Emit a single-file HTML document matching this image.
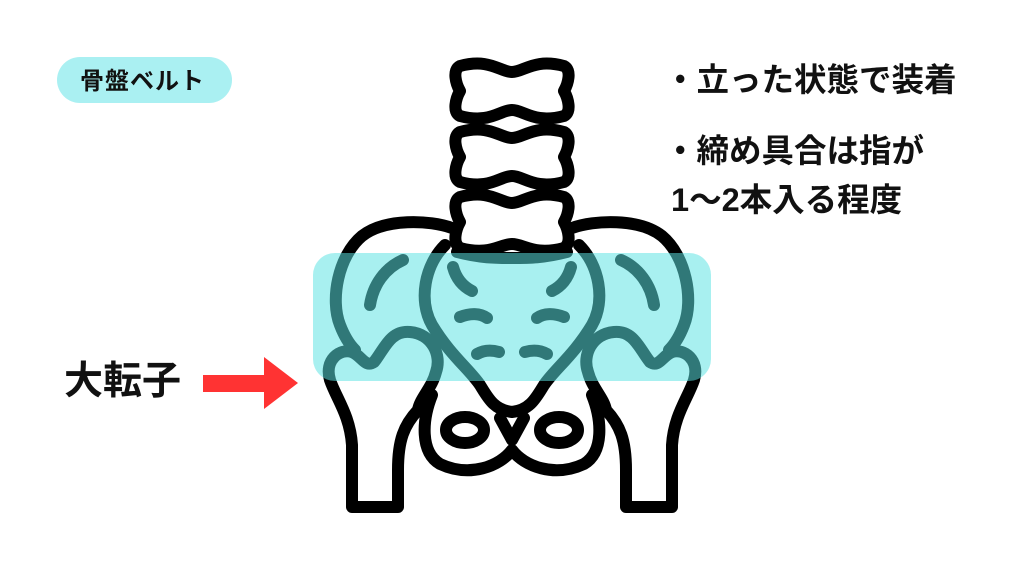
<!DOCTYPE html>
<html><head><meta charset="utf-8"><style>
html,body{margin:0;padding:0;background:#fff;}
body{width:1024px;height:576px;position:relative;overflow:hidden;font-family:"Liberation Sans","Noto Sans CJK JP",sans-serif;font-weight:bold;color:#111;}
.t{position:absolute;white-space:nowrap;line-height:1;}
</style></head><body>
<div style="position:absolute;left:57px;top:57px;width:175px;height:46px;border-radius:23px;background:#aaf0f2;"></div>
<div class="t" style="left:80px;top:70px;font-size:24px;letter-spacing:1px;">骨盤ベルト</div>
<div class="t" style="left:664px;top:64px;font-size:32.5px;">・立った状態で装着</div>
<div class="t" style="left:664px;top:135px;font-size:32.5px;">・締め具合は指が</div>
<div class="t" style="left:671px;top:184px;font-size:32.5px;">1〜2本入る程度</div>
<div class="t" style="left:64px;top:362px;font-size:39px;">大転子</div>
<svg width="1024" height="576" style="position:absolute;left:0;top:0">
<polygon points="203,375 264,375 264,357 298,383 264,409 264,392 203,392" fill="#ff3333"/>
<g fill="none" stroke="#000" stroke-width="12" stroke-linecap="round" stroke-linejoin="round">
<path d="M460,66 C490,58 500,72 512,72 C524,72 534,58 564,66 C572,70 568,84 564,91 C568,98 572,112 564,116 C534,124 524,110 512,110 C500,110 490,124 460,116 C452,112 456,98 460,91 C456,84 452,70 460,66 Z" fill="#fff"/>
<path d="M460,132 C490,124 500,138 512,138 C524,138 534,124 564,132 C572,136 568,150 564,157 C568,164 572,178 564,182 C534,190 524,176 512,176 C500,176 490,190 460,182 C452,178 456,164 460,157 C456,150 452,136 460,132 Z" fill="#fff"/>
<path d="M460,197 C490,189 500,203 512,203 C524,203 534,189 564,197 C572,201 568,215 564,222 C568,229 572,243 564,248 C534,256 524,244 512,244 C500,244 490,256 460,248 C452,243 456,229 460,222 C456,215 452,201 460,197 Z" fill="#fff"/>
<path d="M452,228 C430,220 385,218 362,236 C338,256 330,300 340,325 C345,338 350,345 355,350"/>
<path d="M572,228 C594,220 639,218 662,236 C686,256 694,300 684,325 C679,338 674,345 669,350"/>
<path d="M445,245 C425,265 418,300 432,325 C450,355 470,370 480,385 C488,398 494,410 512,412 C530,410 536,398 544,385 C554,370 574,355 592,325 C606,300 599,265 579,245"/>
<path d="M457,252 C480,258 495,258 512,258 C529,258 544,258 567,252"/>
<path d="M403,260 C385,268 373,285 370,305"/>
<path d="M621,260 C639,268 651,285 654,305"/>
<path d="M453,267 C456,278 462,286 472,291"/><path d="M571,267 C568,278 562,286 552,291"/>
<path d="M460,317 C470,313 480,313 487,318"/><path d="M564,317 C554,313 544,313 537,318"/>
<path d="M477,354 C484,350 492,350 499,352"/><path d="M547,354 C540,350 532,350 525,352"/>
<path d="M352,507 L352,445 C350,415 336,398 330,380 C324,360 340,348 352,352 C362,356 365,368 374,362 C384,350 390,330 410,332 C432,334 442,355 436,372 C432,388 420,398 418,410 C404,425 398,440 398,470 L398,507 Z" fill="#fff"/>
<path d="M672,507 L672,445 C674,415 688,398 694,380 C700,360 684,348 672,352 C662,356 659,368 650,362 C640,350 634,330 614,332 C592,334 582,355 588,372 C592,388 604,398 606,410 C620,425 626,440 626,470 L626,507 Z" fill="#fff"/>
<path d="M432,395 C422,420 420,452 440,464 C470,478 500,466 512,450 C524,466 554,478 584,464 C604,452 602,420 592,395"/>
<path d="M500,418 L512,440 L524,418"/>
<ellipse cx="465" cy="430" rx="19" ry="13"/>
<ellipse cx="559" cy="430" rx="19" ry="13"/>
</g>
<rect x="313" y="253" width="398" height="128" rx="22" fill="rgba(90,226,226,0.53)"/>
</svg>
</body></html>
